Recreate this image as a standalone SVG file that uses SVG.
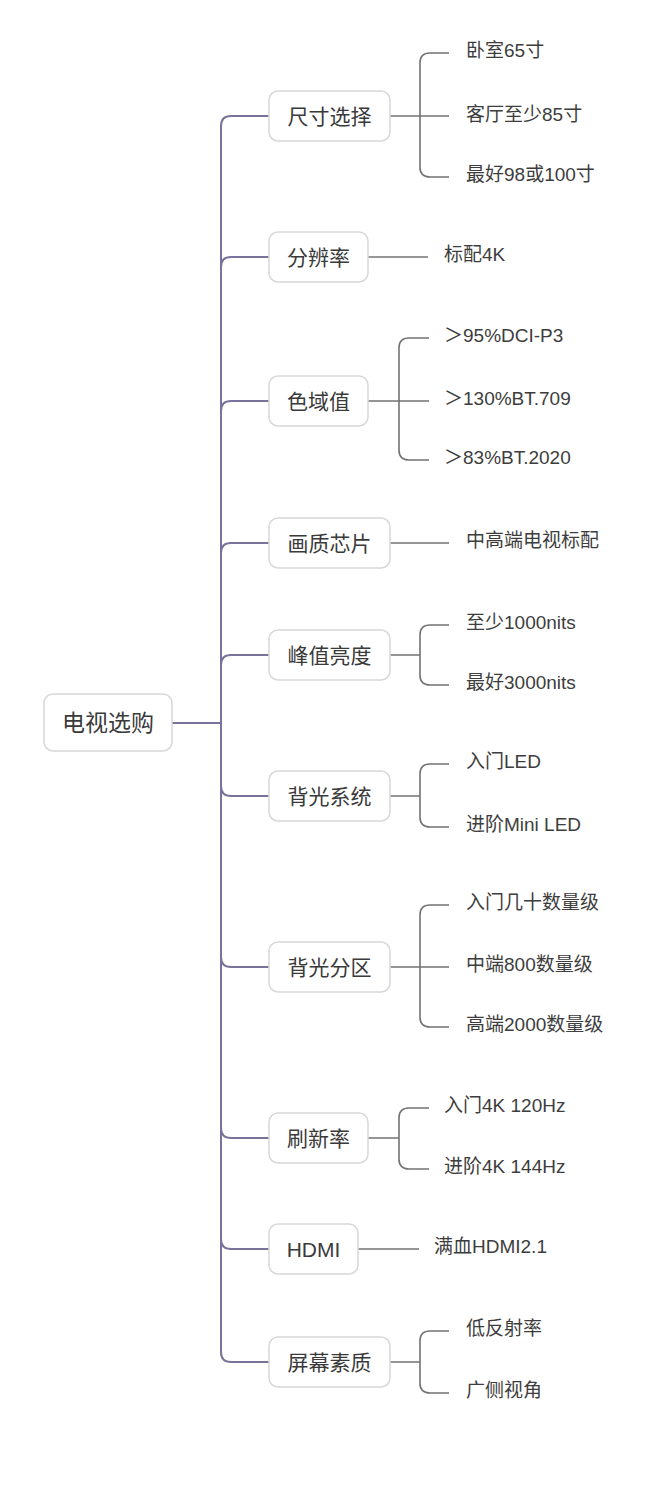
<svg xmlns="http://www.w3.org/2000/svg" width="655" height="1487" viewBox="0 0 655 1487">
<style>
.bg{fill:#ffffff}
.box{fill:#ffffff;stroke:#d8d8d8;stroke-width:1.5}
.main{fill:none;stroke:#77739a;stroke-width:2}
.sub{fill:none;stroke:#737373;stroke-width:1.6}
.t0{font-family:"Liberation Sans","Noto Sans CJK SC",sans-serif;font-size:23px;fill:#3a3a3a;text-anchor:middle}
.t1{font-family:"Liberation Sans","Noto Sans CJK SC",sans-serif;font-size:21px;fill:#3a3a3a;text-anchor:middle}
.t2{font-family:"Liberation Sans","Noto Sans CJK SC",sans-serif;font-size:19px;fill:#3d3d3d}
</style>
<rect class="bg" x="0" y="0" width="655" height="1487"/>
<g id="connectors">
<path class="main" d="M172,723 H221"/>
<path class="main" d="M221,723 V126 Q221,116 231,116 H269"/>
<path class="main" d="M221,723 V267 Q221,257 231,257 H269"/>
<path class="main" d="M221,723 V411 Q221,401 231,401 H269"/>
<path class="main" d="M221,723 V553 Q221,543 231,543 H269"/>
<path class="main" d="M221,723 V665 Q221,655 231,655 H269"/>
<path class="main" d="M221,723 V786 Q221,796 231,796 H269"/>
<path class="main" d="M221,723 V957 Q221,967 231,967 H269"/>
<path class="main" d="M221,723 V1128 Q221,1138 231,1138 H269"/>
<path class="main" d="M221,723 V1239 Q221,1249 231,1249 H269"/>
<path class="main" d="M221,723 V1352 Q221,1362 231,1362 H269"/>
<path class="sub" d="M390,116 H449 M420,116 V63 Q420,53 430,53 H449 M420,116 V167 Q420,177 430,177 H449"/>
<path class="sub" d="M368,257 H428"/>
<path class="sub" d="M368,401 H429 M399,401 V348 Q399,338 409,338 H429 M399,401 V450 Q399,460 409,460 H429"/>
<path class="sub" d="M390,543 H449"/>
<path class="sub" d="M390,655 H420 M420,655 V635 Q420,625 430,625 H449 M420,655 V675 Q420,685 430,685 H449"/>
<path class="sub" d="M390,796 H420 M420,796 V774 Q420,764 430,764 H449 M420,796 V817 Q420,827 430,827 H449"/>
<path class="sub" d="M390,967 H449 M420,967 V915 Q420,905 430,905 H449 M420,967 V1017 Q420,1027 430,1027 H449"/>
<path class="sub" d="M368,1138 H399 M399,1138 V1118 Q399,1108 409,1108 H429 M399,1138 V1159 Q399,1169 409,1169 H429"/>
<path class="sub" d="M358,1249 H419"/>
<path class="sub" d="M390,1362 H420 M420,1362 V1341 Q420,1331 430,1331 H449 M420,1362 V1383 Q420,1393 430,1393 H449"/>
</g>
<g id="root"><rect class="box" x="44" y="694" width="128" height="57" rx="9"/><text class="t0" x="108" y="731">电视选购</text></g>
<g id="n1"><rect class="box" x="269" y="91" width="121" height="50" rx="9"/><text class="t1" x="329.5" y="124">尺寸选择</text></g>
<g id="n1a"><text class="t2" x="466" y="57">卧室65寸</text></g>
<g id="n1b"><text class="t2" x="466" y="121">客厅至少85寸</text></g>
<g id="n1c"><text class="t2" x="466" y="181">最好98或100寸</text></g>
<g id="n2"><rect class="box" x="269" y="232" width="99" height="50" rx="9"/><text class="t1" x="318.5" y="265">分辨率</text></g>
<g id="n2a"><text class="t2" x="444" y="261">标配4K</text></g>
<g id="n3"><rect class="box" x="269" y="376" width="99" height="50" rx="9"/><text class="t1" x="318.5" y="409">色域值</text></g>
<g id="n3a"><text class="t2" x="444" y="342">＞95%DCI-P3</text></g>
<g id="n3b"><text class="t2" x="444" y="405">＞130%BT.709</text></g>
<g id="n3c"><text class="t2" x="444" y="464">＞83%BT.2020</text></g>
<g id="n4"><rect class="box" x="269" y="518" width="121" height="50" rx="9"/><text class="t1" x="329.5" y="551">画质芯片</text></g>
<g id="n4a"><text class="t2" x="466" y="547">中高端电视标配</text></g>
<g id="n5"><rect class="box" x="269" y="630" width="121" height="50" rx="9"/><text class="t1" x="329.5" y="663">峰值亮度</text></g>
<g id="n5a"><text class="t2" x="466" y="629">至少1000nits</text></g>
<g id="n5b"><text class="t2" x="466" y="689">最好3000nits</text></g>
<g id="n6"><rect class="box" x="269" y="771" width="121" height="50" rx="9"/><text class="t1" x="329.5" y="804">背光系统</text></g>
<g id="n6a"><text class="t2" x="466" y="768">入门LED</text></g>
<g id="n6b"><text class="t2" x="466" y="831">进阶Mini LED</text></g>
<g id="n7"><rect class="box" x="269" y="942" width="121" height="50" rx="9"/><text class="t1" x="329.5" y="975">背光分区</text></g>
<g id="n7a"><text class="t2" x="466" y="909">入门几十数量级</text></g>
<g id="n7b"><text class="t2" x="466" y="971">中端800数量级</text></g>
<g id="n7c"><text class="t2" x="466" y="1031">高端2000数量级</text></g>
<g id="n8"><rect class="box" x="269" y="1113" width="99" height="50" rx="9"/><text class="t1" x="318.5" y="1146">刷新率</text></g>
<g id="n8a"><text class="t2" x="444" y="1112">入门4K 120Hz</text></g>
<g id="n8b"><text class="t2" x="444" y="1173">进阶4K 144Hz</text></g>
<g id="n9"><rect class="box" x="269" y="1224" width="89" height="50" rx="9"/><text class="t1" x="313.5" y="1257">HDMI</text></g>
<g id="n9a"><text class="t2" x="434" y="1253">满血HDMI2.1</text></g>
<g id="n10"><rect class="box" x="269" y="1337" width="121" height="50" rx="9"/><text class="t1" x="329.5" y="1370">屏幕素质</text></g>
<g id="n10a"><text class="t2" x="466" y="1335">低反射率</text></g>
<g id="n10b"><text class="t2" x="466" y="1397">广侧视角</text></g>
</svg>
